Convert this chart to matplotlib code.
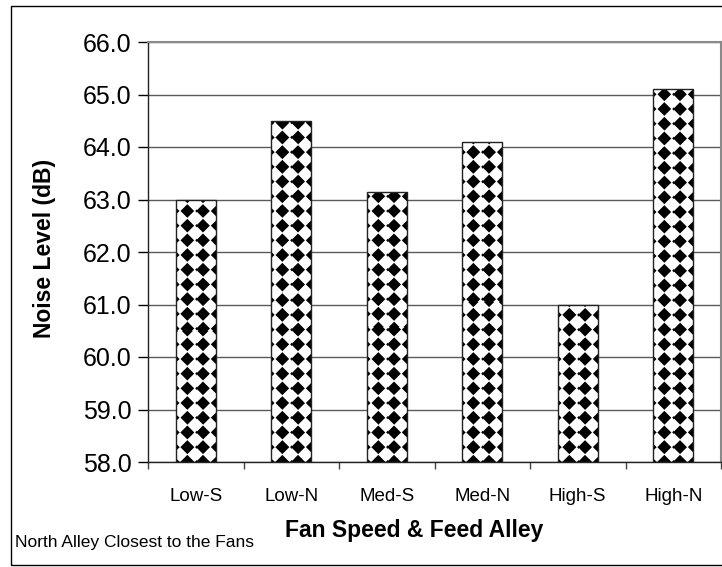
import matplotlib
matplotlib.use('Agg')
import matplotlib.pyplot as plt
from matplotlib.patches import Rectangle
import numpy as np

# chart data
categories = ['Low-S', 'Low-N', 'Med-S', 'Med-N', 'High-S', 'High-N']
noise_db = [63.0, 64.5, 63.15, 64.1, 61.0, 65.1]
y_ticks = [58.0, 59.0, 60.0, 61.0, 62.0, 63.0, 64.0, 65.0, 66.0]

plt.rcParams['font.family'] = ['Liberation Sans', 'DejaVu Sans']

W, H, DPI = 722, 567, 100
fig = plt.figure(figsize=(W / DPI, H / DPI), dpi=DPI)
ax = fig.add_axes([148 / W, 1 - 462 / H, (721 - 148) / W, (462 - 42) / H])

x = np.arange(len(categories))
bar_w = 0.42
y0 = y_ticks[0]

bars = ax.bar(x, np.array(noise_db) - y0, bottom=y0, width=bar_w,
              color='white', edgecolor='none', zorder=2)
ax.bar(x, np.array(noise_db) - y0, bottom=y0, width=bar_w,
       fill=False, edgecolor='#222222', linewidth=1.0, zorder=3)

ax.set_xlim(-0.5, len(categories) - 0.5)
ax.set_ylim(y_ticks[0], y_ticks[-1])


def diamond_pattern(w_px, h_px, period=14.7, radius=6.9, ox=4.0, oy=7.5, ss=3):
    # black diamonds on white, anchored at bar left / bottom edge
    xs = (np.arange(w_px * ss) + 0.5) / ss
    ys = (np.arange(h_px * ss) + 0.5) / ss
    gx, gy = np.meshgrid(xs, ys[::-1])
    u = np.mod(gx - ox, period) - period / 2
    v = np.mod(gy - oy, period) - period / 2
    black = (np.abs(u) + np.abs(v)) < radius
    val = 1.0 - black.astype(float)
    val = val.reshape(h_px, ss, w_px, ss).mean(axis=(1, 3))
    return np.dstack([val, val, val])


for b in bars:
    (px0, py0), (px1, py1) = ax.transData.transform(
        [(b.get_x(), b.get_y()), (b.get_x() + b.get_width(), b.get_y() + b.get_height())])
    w_px = max(int(round(px1 - px0)), 1)
    h_px = max(int(round(py1 - py0)), 1)
    img = diamond_pattern(w_px, h_px)
    im = ax.imshow(img, extent=(b.get_x(), b.get_x() + b.get_width(),
                                b.get_y(), b.get_y() + b.get_height()),
                   origin='upper', aspect='auto', interpolation='nearest', zorder=2.2)
    im.set_clip_path(b)

ax.set_xlim(-0.5, len(categories) - 0.5)
ax.set_ylim(y_ticks[0], y_ticks[-1])

# axes styling
ax.set_yticks(y_ticks)
ax.set_yticklabels([f'{t:.1f}' for t in y_ticks], fontsize=18)
ax.tick_params(axis='y', length=7, width=1, pad=5, direction='out', color='black')
ax.set_xticks(x)
ax.set_xticklabels(categories, fontsize=13.5)
ax.tick_params(axis='x', which='major', length=0, pad=19)
ax.set_xticks(np.arange(len(categories) + 1) - 0.5, minor=True)
ax.tick_params(axis='x', which='minor', length=5, width=1, direction='out', color='#444444')

ax.yaxis.grid(True, color='#5a5a5a', linewidth=1.0)
ax.set_axisbelow(True)
for s in ['top', 'right']:
    ax.spines[s].set_color('#8a8a8a')
    ax.spines[s].set_linewidth(1.5)
for s in ['left', 'bottom']:
    ax.spines[s].set_color('#222222')
    ax.spines[s].set_linewidth(1.0)

fig.text(45 / W, 1 - 248 / H, 'Noise Level (dB)', rotation=90, ha='center', va='center',
         fontsize=16.5, fontweight='bold')
fig.text(414 / W, 1 - 530 / H, 'Fan Speed & Feed Alley', ha='center', va='center',
         fontsize=16.5, fontweight='bold')
fig.text(15 / W, 1 - 543 / H, 'North Alley Closest to the Fans', ha='left', va='center',
         fontsize=12.5)

# outer chart frame
fig.patches.append(Rectangle((11 / W, 1 - 565 / H), 1.0, (565 - 6) / H,
                             transform=fig.transFigure, fill=False,
                             edgecolor='black', linewidth=1.0))

fig.savefig('out.png', dpi=DPI)
